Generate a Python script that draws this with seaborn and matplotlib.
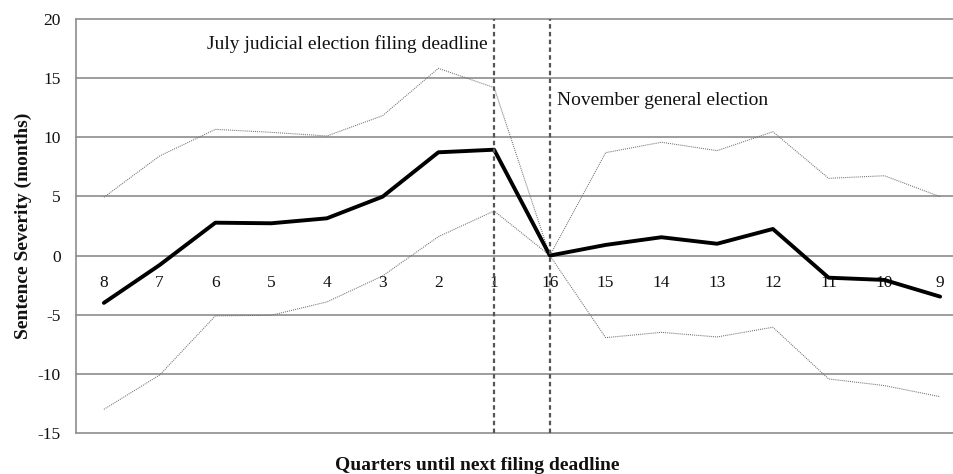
import matplotlib
matplotlib.use("Agg")
import matplotlib.pyplot as plt
import seaborn as sns
import pandas as pd
import numpy as np

quarters = ["8", "7", "6", "5", "4", "3", "2", "1", "16", "15", "14", "13", "12", "11", "10", "9"]
estimate = [-4.0, -0.8, 2.78, 2.73, 3.15, 4.98, 8.73, 8.95, 0.0, 0.9, 1.55, 1.0, 2.25, -1.87, -2.06, -3.47]
upper = [4.93, 8.42, 10.67, 10.42, 10.11, 11.83, 15.83, 14.2, 0.0, 8.7, 9.58, 8.87, 10.47, 6.53, 6.75, 4.98]
lower = [-13.0, -10.1, -5.1, -5.05, -3.92, -1.72, 1.6, 3.77, 0.0, -6.94, -6.49, -6.88, -6.06, -10.43, -10.99, -11.93]
yticks = [-15, -10, -5, 0, 5, 10, 15, 20]
events = [("1", "July judicial election filing deadline"), ("16", "November general election")]

sns.set_theme(style="white")
plt.rcParams['font.family'] = ['Liberation Serif', 'DejaVu Serif']

df = pd.DataFrame({"pos": np.arange(len(quarters)), "quarter": quarters,
                   "estimate": estimate, "upper": upper, "lower": lower})

fig = plt.figure(figsize=(9.54, 4.74), dpi=100)
ax = fig.add_axes([76/954, 1 - 433/474, (968 - 76)/954, (433 - 19)/474])

for y in yticks:
    ax.axhline(y, color="#8c8c8c", lw=1.2, zorder=1, clip_on=False)

sns.lineplot(data=df, x="pos", y="upper", ax=ax, color="#707070", lw=0.75, linestyle=(0, (1, 1)), zorder=3)
sns.lineplot(data=df, x="pos", y="lower", ax=ax, color="#707070", lw=0.75, linestyle=(0, (1, 1)), zorder=3)
sns.lineplot(data=df, x="pos", y="estimate", ax=ax, color="black", lw=2.8, zorder=4)

for q, label in events:
    i = quarters.index(q)
    ax.axvline(i, color="#555555", lw=1.6, linestyle=(0, (2, 1.5)), zorder=5)

# event annotations
i1 = quarters.index(events[0][0])
ax.text(i1 - 0.12, 17.85, events[0][1], ha="right", va="center", fontsize=14, color="#111111")
i2 = quarters.index(events[1][0])
ax.text(i2 + 0.12, 13.15, events[1][1], ha="left", va="center", fontsize=14, color="#111111")

for i, q in enumerate(quarters):
    ax.text(i, -2.3, q, ha="center", va="center", fontsize=12.5, color="#111111", zorder=2)

ax.set_xlim(-0.5, 15.5)
ax.set_ylim(-15, 20)
ax.set_xticks([])
ax.set_yticks(yticks)
ax.set_yticklabels([str(v) for v in yticks], fontsize=12.5, color="#111111")
ax.tick_params(axis="y", length=0, pad=11)
for s in ["top", "right", "bottom"]:
    ax.spines[s].set_visible(False)
ax.spines["left"].set_color("#8c8c8c")
ax.spines["left"].set_linewidth(1.2)
ax.set_xlabel("")
ax.set_ylabel("Sentence Severity (months)", fontsize=14, fontweight="bold", labelpad=4, color="#111111")

fig.text(477/954, 1 - 465/474, "Quarters until next filing deadline", ha="center", va="center",
         fontsize=14, fontweight="bold", color="#111111")

fig.savefig("out.png", dpi=100)
